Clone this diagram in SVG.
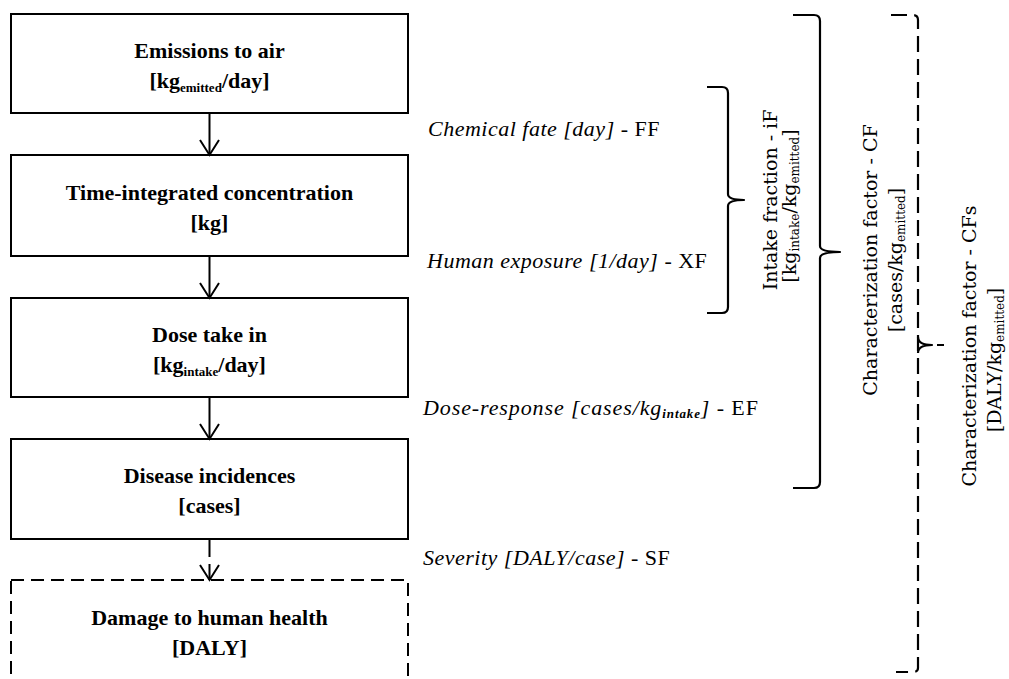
<svg xmlns="http://www.w3.org/2000/svg" width="1009" height="679" viewBox="0 0 1009 679">
  <style>
    .box { fill: #fff; stroke: #000; stroke-width: 2; }
    .dash { stroke-dasharray: 13 7; }
    .wire { fill: none; stroke: #000; stroke-width: 2; }
    .brace { fill: none; stroke: #000; stroke-width: 2.2; stroke-linejoin: round; }
    .t { font-family: "Liberation Serif", "Times New Roman", serif; font-weight: bold; font-size: 22px; text-anchor: middle; fill: #000; }
    .sub { font-size: 13px; }
    .lbl { font-family: "Liberation Serif", "Times New Roman", serif; font-style: italic; font-size: 22px; letter-spacing: 0.5px; fill: #000; }
    .wide { letter-spacing: 0.9px; }
    .up { font-style: normal; }
    .lsub { font-size: 13px; font-weight: bold; }
    .rot { font-family: "DejaVu Serif", serif; font-size: 19px; text-anchor: middle; fill: #000; }
    .rsub { font-size: 12px; }
  </style>
  <defs>
    <path id="vhead" d="M-9.5,-15 L0,0 L9.5,-15" fill="none" stroke="#000" stroke-width="2"/>
  </defs>
  <rect width="1009" height="679" fill="#fff"/>

  <!-- flow chain -->
  <g id="emissions">
    <rect class="box" x="11" y="14" width="397" height="99"/>
    <text class="t" x="209.5" y="58">Emissions to air</text>
    <text class="t" x="209.5" y="88">[kg<tspan class="sub" dy="4">emitted</tspan><tspan dy="-4">/day]</tspan></text>
  </g>
  <g id="concentration">
    <rect class="box" x="11" y="155" width="397" height="101"/>
    <text class="t" x="209.5" y="200">Time-integrated  concentration</text>
    <text class="t" x="209.5" y="230">[kg]</text>
  </g>
  <g id="dose">
    <rect class="box" x="11" y="298" width="397" height="99"/>
    <text class="t" x="209.5" y="342">Dose take in</text>
    <text class="t" x="209.5" y="372">[kg<tspan class="sub" dy="4">intake</tspan><tspan dy="-4">/day]</tspan></text>
  </g>
  <g id="disease">
    <rect class="box" x="11" y="439" width="397" height="100"/>
    <text class="t" x="209.5" y="483">Disease incidences</text>
    <text class="t" x="209.5" y="513">[cases]</text>
  </g>
  <g id="damage">
    <rect class="box dash" x="11" y="580" width="397" height="130"/>
    <text class="t" x="209.5" y="625">Damage to human health</text>
    <text class="t" x="209.5" y="655">[DALY]</text>
  </g>

  <g id="connectors">
    <line class="wire" x1="209.5" y1="113" x2="209.5" y2="155"/>
    <use href="#vhead" x="209.5" y="155"/>
    <line class="wire" x1="209.5" y1="256" x2="209.5" y2="298"/>
    <use href="#vhead" x="209.5" y="298"/>
    <line class="wire" x1="209.5" y1="397" x2="209.5" y2="439"/>
    <use href="#vhead" x="209.5" y="439"/>
    <line class="wire" x1="209.5" y1="539" x2="209.5" y2="580" stroke-dasharray="18 7"/>
    <use href="#vhead" x="209.5" y="580"/>
  </g>

  <!-- factor labels between steps -->
  <g id="factors">
    <text class="lbl" x="428" y="136">Chemical fate [day]<tspan class="up"> - FF</tspan></text>
    <text class="lbl" x="427" y="268">Human exposure [1/day]<tspan class="up"> - XF</tspan></text>
    <text class="lbl wide" x="423" y="415">Dose-response [cases/kg<tspan class="lsub" dy="3">intake</tspan><tspan dy="-3">]</tspan><tspan class="up"> - EF</tspan></text>
    <text class="lbl" x="423" y="565">Severity [DALY/case]<tspan class="up"> - SF</tspan></text>
  </g>

  <!-- grouping braces -->
  <g id="intake-fraction">
    <path class="brace" d="M707,87 L722,87 Q728,87 728,93 L728,194 Q728,200 744,200 Q728,200 728,206 L728,307 Q728,313 722,313 L707,313"/>
    <text class="rot" transform="translate(777,200) rotate(-90)">Intake fraction - iF</text>
    <text class="rot" transform="translate(796,206) rotate(-90)">[kg<tspan class="rsub" dy="3">intake</tspan><tspan dy="-3">/kg</tspan><tspan class="rsub" dy="3">emitted</tspan><tspan dy="-3">]</tspan></text>
  </g>
  <g id="characterization-factor">
    <path class="brace" d="M793,15 L814,15 Q820,15 820,21 L820,246 Q820,252 840,252 Q820,252 820,258 L820,482 Q820,488 814,488 L793,488"/>
    <text class="rot" transform="translate(877,260) rotate(-90)">Characterization factor - CF</text>
    <text class="rot" transform="translate(902,260) rotate(-90)">[cases/kg<tspan class="rsub" dy="3">emitted</tspan><tspan dy="-3">]</tspan></text>
  </g>
  <g id="characterization-factor-s">
    <path class="brace" stroke-dasharray="16 7" d="M891,15 L913,15 Q918,15 918,20 L918,668 Q918,672 913,672 L896,672"/>
    <path class="brace" d="M918,337 Q918,345 932,345 Q918,345 918,353 M937,345 L944,345"/>
    <text class="rot" transform="translate(976,346) rotate(-90)">Characterization factor - CFs</text>
    <text class="rot" transform="translate(1001,360) rotate(-90)">[DALY/kg<tspan class="rsub" dy="3">emitted</tspan><tspan dy="-3">]</tspan></text>
  </g>
</svg>
